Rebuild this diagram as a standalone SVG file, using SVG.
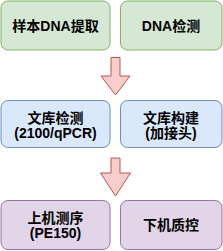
<svg xmlns="http://www.w3.org/2000/svg" width="223" height="251" viewBox="0 0 223 251">
<style>
text{font-family:"Liberation Sans","Noto Sans CJK SC",sans-serif;font-size:14px;font-weight:bold;fill:#000;text-anchor:middle;dominant-baseline:central}
.g{fill:#d5e8d4;stroke:#82b366}
.b{fill:#dae8fc;stroke:#6c8ebf}
.p{fill:#e1d5e7;stroke:#9673a6}
.a{fill:#f8cecc;stroke:#b85450}
</style>
<rect width="223" height="251" fill="#fff"/>
<g id="connectors">
<path class="a" d="M111,57.5 H120 V76 H130 L115.5,95 L101,76 H111 Z"/>
<path class="a" d="M111,158 H120 V173 H130.5 L115.5,196 L100.5,173 H111 Z"/>
</g>
<g id="n1"><rect class="g" x="1" y="1" width="109" height="49" rx="7"/><text x="55.5" y="25.5">样本DNA提取</text></g>
<g id="n2"><rect class="g" x="120.5" y="1" width="101.5" height="49" rx="7"/><text x="171" y="25.5">DNA检测</text></g>
<g id="n3"><rect class="b" x="1" y="100.5" width="109" height="47" rx="7"/><text x="55.5" y="118">文库检测</text><text x="55.5" y="133">(2100/qPCR)</text></g>
<g id="n4"><rect class="b" x="120.5" y="100.5" width="101.5" height="47" rx="7"/><text x="171" y="118">文库构建</text><text x="171" y="133">(加接头)</text></g>
<g id="n5"><rect class="p" x="1" y="200.5" width="109" height="49" rx="7"/><text x="55.5" y="218">上机测序</text><text x="55.5" y="233">(PE150)</text></g>
<g id="n6"><rect class="p" x="120.5" y="200.5" width="101.5" height="49" rx="7"/><text x="171" y="225">下机质控</text></g>
</svg>
